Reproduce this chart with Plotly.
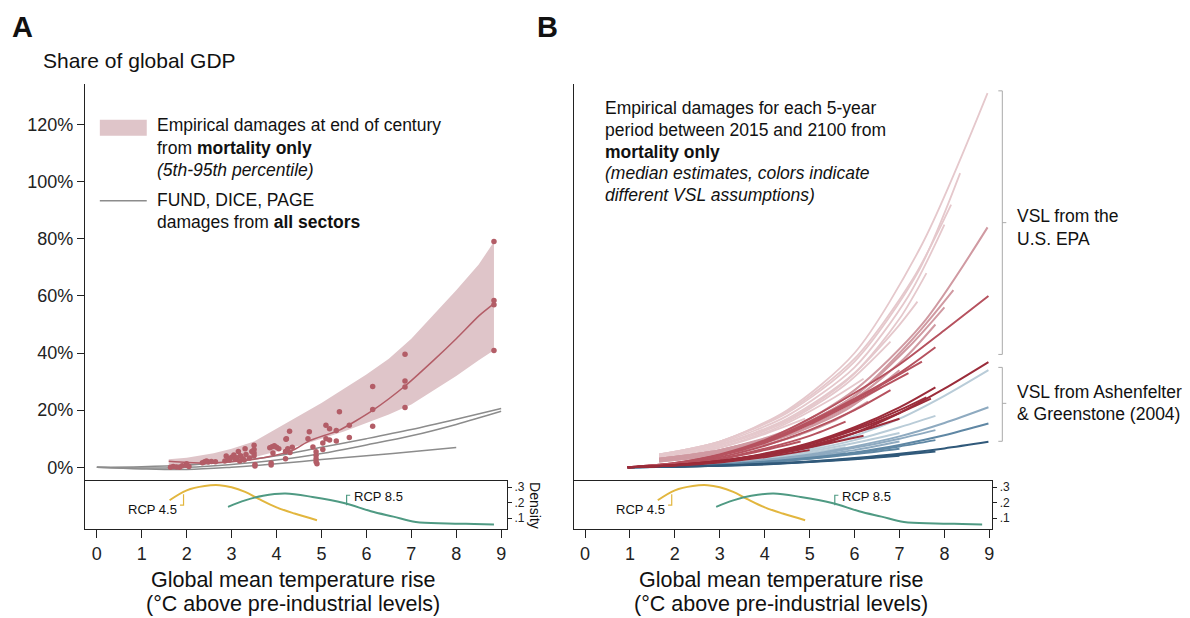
import plotly.graph_objects as go

W, H = 1190, 618
FONT = "Liberation Sans, Arial, Helvetica, sans-serif"

# ---------------- Panel A data ----------------
band_T = [1.6, 2.0, 2.6, 3.0, 3.5, 4.0, 4.5, 5.0, 5.5, 6.0, 6.5, 7.0, 7.5, 8.0, 8.5, 8.84]
band_upper = [2.8, 3.3, 4.9, 6.5, 9.0, 13.5, 18.0, 22.5, 27.5, 32.5, 38.0, 45.0, 53.5, 62.0, 71.0, 79.0]
band_lower = [0.3, 0.3, 1.4, 2.2, 3.5, 5.5, 7.5, 10.0, 12.5, 15.5, 18.5, 22.0, 27.0, 32.0, 37.5, 41.0]

median_T = [1.6, 2.0, 2.58, 3.0, 3.47, 4.0, 4.36, 4.75, 5.4, 6.14, 6.88, 7.5, 8.0, 8.51, 8.84]
median_V = [2.1, 1.7, 1.5, 1.9, 2.7, 4.3, 5.9, 9.4, 13.0, 19.9, 28.7, 37.5, 45.0, 53.1, 57.3]

dots_T = [1.64, 1.70, 1.77, 1.84, 1.90, 1.99, 2.05, 2.00,
          2.35, 2.40, 2.44, 2.48, 2.64, 2.55,
          2.85, 2.88, 2.92, 2.95, 3.00, 3.05, 3.08, 3.12, 3.15, 3.18, 3.20, 3.25, 3.30, 3.32, 3.28,
          3.50, 3.50, 3.50, 3.50, 3.52, 3.52, 3.45, 3.40,
          3.85, 3.90, 3.95, 4.00, 4.05, 3.88, 3.88, 3.92,
          4.21, 4.29, 4.22, 4.20, 4.25, 4.30, 4.20, 4.35,
          4.73, 4.70, 4.81, 4.88, 4.88, 4.88, 4.88, 4.90,
          5.03, 5.03, 5.10, 5.10, 5.18, 5.18, 5.33, 5.33, 5.40, 5.62, 5.62,
          6.14, 6.14, 6.14,
          6.86, 6.86, 6.86, 6.86,
          8.84, 8.84, 8.84, 8.84]
dots_V = [0.0, 0.3, 0.1, 0.0, 0.5, 0.7, 0.3, 1.2,
          1.6, 1.9, 2.2, 1.8, 1.9, 2.0,
          2.2, 3.9, 3.0, 2.5, 3.5, 4.3, 2.8, 3.3, 5.5, 2.2, 4.0, 3.0, 6.5, 4.5, 2.5,
          7.7, 6.2, 5.0, 4.0, 1.0, 0.4, 5.5, 3.2,
          6.8, 7.2, 7.5, 7.0, 6.5, 1.5, 0.8, 5.0,
          9.8, 12.6, 10.0, 5.5, 6.5, 5.2, 3.0, 7.0,
          12.4, 10.0, 7.1, 5.4, 4.2, 3.0, 1.9, 1.2,
          8.5, 6.2, 14.7, 10.0, 13.5, 9.5, 12.9, 9.2, 19.4, 14.7, 10.4,
          28.3, 20.2, 14.4,
          39.6, 30.2, 28.1, 20.9,
          79.1, 58.4, 56.9, 40.9]

iam_T = [[0, 1, 2, 3, 4, 5, 6, 7, 8, 9],
         [0, 1, 2, 3, 4, 5, 6, 7, 8, 9],
         [0, 1, 2, 3, 4, 5, 6, 7, 8]]
iam_V = [[0, 0.2, 0.8, 2.0, 4.0, 7.0, 10.0, 13.2, 16.8, 20.6],
         [0, -0.3, 0.0, 1.0, 2.5, 4.8, 7.8, 11.0, 15.0, 19.6],
         [0, -0.6, -0.8, 0.0, 1.2, 2.7, 4.0, 5.4, 6.9]]

# density (both panels)
rcp45_T = [1.62, 2.0, 2.4, 2.73, 3.0, 3.3, 3.6, 4.0, 4.4, 4.9]
rcp45_D = [0.216, 0.28, 0.308, 0.313, 0.30, 0.27, 0.225, 0.17, 0.13, 0.087]
rcp85_T = [2.92, 3.3, 3.7, 4.2, 4.8, 5.5, 6.1, 6.6, 7.1, 7.8, 8.4, 8.84]
rcp85_D = [0.173, 0.215, 0.245, 0.259, 0.237, 0.198, 0.145, 0.11, 0.075, 0.066, 0.062, 0.059]

# ---------------- Panel B data (one list per VSL assumption) ----------------
E1_T = [[1.65, 3.0, 4.5, 6.0, 7.5, 8.96], [1.65, 3.0, 4.5, 6.0, 7.4, 8.35], [1.65, 3.0, 4.5, 6.0, 7.3, 8.15],
        [1.65, 3.0, 4.5, 6.0, 7.2, 8.0], [1.65, 3.0, 4.5, 6.0, 7.0, 7.6], [1.65, 3.0, 4.5, 5.8, 6.9, 7.4],
        [1.65, 3.0, 4.5, 5.8, 6.8], [1.65, 3.0, 4.3, 5.5, 6.2], [1.65, 2.8, 3.8, 4.9]]
E1_V = [[4.5, 9, 20, 40, 78, 131], [4.5, 9, 19, 37, 68, 103], [4.5, 9, 19.5, 38, 66, 92],
        [4, 8.5, 18, 35, 60, 85], [4, 8, 17, 33, 52, 68], [4, 8, 16.5, 30, 48, 58],
        [3.5, 7.5, 16, 29, 44], [3, 7, 14, 24, 31], [3, 6, 10.5, 17]]
E2_T = [[1.65, 3.0, 4.5, 6.0, 7.5, 8.96], [1.65, 3.0, 4.5, 6.0, 7.3, 8.2], [1.65, 3.0, 4.5, 6.0, 7.2, 8.0],
        [1.65, 3.0, 4.5, 6.0, 7.1, 7.8], [1.65, 3.0, 4.5, 5.8, 7.0], [1.65, 3.0, 4.5, 5.6, 6.6],
        [1.65, 3.0, 4.3, 5.5, 6.3], [1.65, 2.8, 3.8, 4.8]]
E2_V = [[3, 6, 13, 27, 50, 84], [3, 6, 12.5, 25, 45, 62], [3, 6, 12.5, 25, 42, 56],
        [2.5, 5.5, 12, 24, 38, 50], [2.5, 5, 11, 20, 34], [2.5, 5.5, 11, 19, 28],
        [2, 4.5, 9, 16, 23], [2, 4, 7, 11.5]]
E3_T = [[0.95, 2, 3, 4, 5, 6, 7, 8, 8.98], [0.95, 2, 3, 4, 5, 6, 7, 7.8], [0.95, 2, 3, 4, 5, 6, 7, 7.5],
        [0.95, 2, 3, 4, 5, 6, 7.2], [0.95, 2, 3, 4, 5, 6.0, 6.8], [0.95, 2, 3, 4, 5, 5.8], [0.95, 2, 3, 4, 4.8]]
E3_V = [[0, 1.5, 4.5, 9.5, 17, 26, 36, 48, 60], [0, 1.5, 4.3, 9, 16, 24, 33, 42], [0, 1.4, 4.2, 9, 15.5, 23.5, 32.5, 37],
        [0, 1.3, 4, 8.5, 15, 23, 33], [0, 1.2, 3.5, 7.5, 13, 20, 27], [0, 1, 3, 6.5, 11, 16], [0, 1, 2.8, 6, 9]]
E4_T = [[0.95, 2, 3, 4, 5, 6, 7, 8, 8.98], [0.95, 2, 3, 4, 5, 6, 7, 7.8], [0.95, 2, 3, 4, 5, 6, 7, 7.7],
        [0.95, 2, 3, 4, 5, 6, 7, 7.6], [0.95, 2, 3, 4, 5, 6, 7.0], [0.95, 2, 3, 4, 5, 6.2], [0.95, 2, 3, 4, 5.0]]
E4_V = [[0, 0.7, 2, 4, 7, 12, 19, 27.5, 36.8], [0, 0.8, 2.3, 4.8, 8.5, 14, 21, 28], [0, 0.8, 2.2, 4.5, 8, 13, 19, 24],
        [0, 0.8, 2.2, 4.6, 8.2, 13.5, 20, 24.5], [0, 0.7, 2, 4.2, 7.5, 12, 17], [0, 0.7, 1.9, 4, 7, 11],
        [0, 0.6, 1.7, 3.5, 6]]
A1_T = [[0.95, 2, 3, 4, 5, 6, 7, 8, 8.98], [0.95, 2, 3, 4, 5, 6, 7, 7.8], [0.95, 2, 3, 4, 5, 6, 7.0], [0.95, 2, 3, 4, 5, 5.8]]
A1_V = [[0, 0.5, 1.5, 3.5, 6.5, 11, 17, 25, 34], [0, 0.5, 1.4, 3.2, 6, 9.5, 14, 18], [0, 0.4, 1.3, 3, 5.5, 8.5, 12], [0, 0.4, 1.2, 2.7, 5, 7]]
A2_T = [[0.95, 2, 3, 4, 5, 6, 7, 8, 8.98], [0.95, 2, 3, 4, 5, 6, 7, 7.8], [0.95, 2, 3, 4, 5, 6, 7.0], [0.95, 2, 3, 4, 5, 5.8]]
A2_V = [[0, 0.4, 1.2, 2.6, 4.5, 7.3, 10.8, 15.5, 21], [0, 0.4, 1.1, 2.4, 4.2, 6.8, 10, 13], [0, 0.35, 1, 2.2, 4, 6, 9], [0, 0.3, 0.9, 2, 3.6, 5]]
A3_T = [[0.95, 2, 3, 4, 5, 6, 7, 8, 8.98], [0.95, 2, 3, 4, 5, 6, 7, 7.8], [0.95, 2, 3, 4, 5, 6, 7.0]]
A3_V = [[0, 0.3, 0.9, 1.9, 3.3, 5.2, 7.8, 11.2, 15.3], [0, 0.3, 0.85, 1.8, 3.1, 5, 7.3, 9.5], [0, 0.25, 0.8, 1.7, 3, 4.6, 6.5]]
A4_T = [[0.95, 2, 3, 4, 5, 6, 7, 8, 8.98], [0.95, 2, 3, 4, 5, 6, 7, 7.8], [0.95, 2, 3, 4, 5, 6, 7.0]]
A4_V = [[0, 0.2, 0.6, 1.2, 2, 3.2, 4.7, 6.6, 8.9], [0, 0.2, 0.55, 1.1, 1.9, 3, 4.3, 5.5], [0, 0.2, 0.5, 1, 1.8, 2.8, 4]]

y_ticks = [0, 20, 40, 60, 80, 100, 120]
y_ticktext = ["0%", "20%", "40%", "60%", "80%", "100%", "120%"]
x_ticks = [0, 1, 2, 3, 4, 5, 6, 7, 8, 9]
d_ticks = [0.1, 0.2, 0.3]
d_ticktext = [".1", ".2", ".3"]

# ---------------- styling ----------------
BAND = "#dfc5c9"
DOT = "#b35d67"
GRAY = "#8c8c8c"
YEL = "#e2b63e"
GRN = "#4f9a83"
AX = "#222222"
GROUPS = [(A1_T, A1_V, "#b9ccd8", 2), (A2_T, A2_V, "#8eaac0", 2), (A3_T, A3_V, "#5f87a4", 2), (A4_T, A4_V, "#30597a", 2),
          (E1_T, E1_V, "#e5c8cc", 1.8), (E2_T, E2_V, "#d09aa2", 2), (E3_T, E3_V, "#b6525f", 2), (E4_T, E4_V, "#9b2c3a", 2)]

FS = 17.5  # body text size


def px(x):
    return x / W


def py(y):
    return 1 - y / H


fig = go.Figure()

# Panel A
fig.add_trace(go.Scatter(x=band_T, y=band_lower, mode="lines", line=dict(width=0, color=BAND),
                         xaxis="x", yaxis="y", hoverinfo="skip"))
fig.add_trace(go.Scatter(x=band_T, y=band_upper, mode="lines", line=dict(width=0, color=BAND),
                         fill="tonexty", fillcolor=BAND, xaxis="x", yaxis="y", hoverinfo="skip"))
for tt, vv in zip(iam_T, iam_V):
    fig.add_trace(go.Scatter(x=tt, y=vv, mode="lines", line=dict(color=GRAY, width=1.5, shape="spline"),
                             xaxis="x", yaxis="y"))
fig.add_trace(go.Scatter(x=median_T, y=median_V, mode="lines", line=dict(color=DOT, width=1.5, shape="spline", smoothing=0.6),
                         xaxis="x", yaxis="y"))
fig.add_trace(go.Scatter(x=dots_T, y=dots_V, mode="markers", marker=dict(color=DOT, size=5.5),
                         xaxis="x", yaxis="y"))

# Density panels
for xa, ya in (("x2", "y2"), ("x4", "y4")):
    fig.add_trace(go.Scatter(x=rcp45_T, y=rcp45_D, mode="lines", line=dict(color=YEL, width=2, shape="spline"),
                             xaxis=xa, yaxis=ya))
    fig.add_trace(go.Scatter(x=rcp85_T, y=rcp85_D, mode="lines", line=dict(color=GRN, width=2, shape="spline"),
                             xaxis=xa, yaxis=ya))

# Panel B lines
for gT, gV, col, wd in GROUPS:
    for tt, vv in zip(gT, gV):
        fig.add_trace(go.Scatter(x=tt, y=vv, mode="lines", line=dict(color=col, width=wd, shape="spline", smoothing=0.8),
                                 xaxis="x3", yaxis="y3"))

A_dom = [px(85), px(508)]
B_dom = [px(575), px(994)]
main_dom = [py(481), py(83)]
dens_dom = [py(529), py(481)]
A_rng = [(85 - 97) / 45, (508 - 97) / 45]
B_rng = [(575 - 586) / 45, (994 - 586) / 45]
y_rng = [-(481 - 467) / 2.86, (467 - 83) / 2.86]
d_rng = [0.3 - (529 - 487) * 0.2 / 31, 0.3 + (487 - 481) * 0.2 / 31]

hidden_x = dict(visible=False, showgrid=False, zeroline=False)
dens_x = dict(showline=True, mirror=True, linecolor=AX, linewidth=1, ticks="outside", ticklen=8, tickwidth=1,
              tickcolor=AX, tickvals=x_ticks, tickfont=dict(size=18, color="#222", family=FONT),
              showgrid=False, zeroline=False)
dens_y = dict(side="right", showline=True, mirror=True, linecolor=AX, linewidth=1, ticks="outside", ticklen=4,
              tickcolor=AX, tickvals=d_ticks, ticktext=d_ticktext, tickfont=dict(size=12, color="#222", family=FONT),
              range=d_rng, domain=dens_dom, showgrid=False, zeroline=False)

fig.update_layout(
    width=W, height=H, margin=dict(l=0, r=0, t=0, b=0),
    paper_bgcolor="white", plot_bgcolor="rgba(0,0,0,0)", showlegend=False,
    font=dict(family=FONT, color="#222"),
    xaxis=dict(domain=A_dom, range=A_rng, anchor="y", **hidden_x),
    yaxis=dict(domain=main_dom, range=y_rng, anchor="x", showline=True, linecolor=AX, linewidth=1, ticks="outside",
               ticklen=7, tickcolor=AX, tickvals=y_ticks, ticktext=y_ticktext,
               tickfont=dict(size=18, color="#222", family=FONT), showgrid=False, zeroline=False),
    xaxis2=dict(domain=A_dom, range=A_rng, anchor="y2", **dens_x),
    yaxis2=dict(anchor="x2", **dens_y),
    xaxis3=dict(domain=B_dom, range=B_rng, anchor="y3", **hidden_x),
    yaxis3=dict(domain=main_dom, range=y_rng, anchor="x3", showline=True, linecolor=AX, linewidth=1, ticks="",
                showticklabels=False, showgrid=False, zeroline=False),
    xaxis4=dict(domain=B_dom, range=B_rng, anchor="y4", **dens_x),
    yaxis4=dict(anchor="x4", **dens_y),
)

ann = []


def txt(x, y, s, size=FS, anchor="left", **kw):
    ann.append(dict(x=px(x), y=py(y), xref="paper", yref="paper", text=s, showarrow=False, xanchor=anchor,
                    yanchor="middle", font=dict(size=size, family=FONT, color=kw.pop("color", "#111")), **kw))


txt(10, 26, "<b>A</b>", size=29)
txt(536, 26, "<b>B</b>", size=29)
txt(41, 60, "Share of global GDP", size=21)

txt(155, 124, "Empirical damages at end of century")
txt(155, 147, "from <b>mortality only</b>")
txt(155, 169, "<i>(5th-95th percentile)</i>")
txt(155, 199, "FUND, DICE, PAGE")
txt(155, 221, "damages from <b>all sectors</b>")

txt(604, 107, "Empirical damages for each 5-year")
txt(604, 129, "period between 2015 and 2100 from")
txt(604, 151, "<b>mortality only</b>")
txt(604, 172, "<i>(median estimates, colors indicate</i>")
txt(604, 194, "<i>different VSL assumptions)</i>")

txt(1017, 215, "VSL from the")
txt(1017, 238, "U.S. EPA")
txt(1017, 392, "VSL from Ashenfelter")
txt(1017, 414, "& Greenstone (2004)")

for cx in (293, 782):
    txt(cx, 580, "Global mean temperature rise", size=21.5, anchor="center")
    txt(cx, 604, "(°C above pre-industrial levels)", size=21.5, anchor="center")

txt(536, 505, "Density", size=14, anchor="center", textangle=90)

# RCP labels (both panels) in density-axis data coordinates
for xa, ya in (("x2", "y2"), ("x4", "y4")):
    ann.append(dict(x=1.82, y=0.158, xref=xa, yref=ya, text="RCP 4.5", showarrow=False, xanchor="right",
                    yanchor="middle", font=dict(size=13, family=FONT, color="#111")))
    ann.append(dict(x=5.67, y=0.242, xref=xa, yref=ya, text="RCP 8.5", showarrow=False, xanchor="left",
                    yanchor="middle", font=dict(size=13, family=FONT, color="#111")))

shapes = []
for xa, ya in (("x2", "y2"), ("x4", "y4")):
    shapes.append(dict(type="path", xref=xa, yref=ya, path="M 1.93 0.255 L 1.93 0.184 L 1.85 0.184",
                       line=dict(color=YEL, width=1.2)))
    shapes.append(dict(type="path", xref=xa, yref=ya, path="M 5.56 0.184 L 5.56 0.248 L 5.64 0.248",
                       line=dict(color=GRN, width=1.2)))

# Panel A legend keys
shapes.append(dict(type="rect", xref="paper", yref="paper", x0=px(100), x1=px(147), y0=py(135), y1=py(119),
                   fillcolor=BAND, line=dict(width=0)))
shapes.append(dict(type="line", xref="paper", yref="paper", x0=px(100), x1=px(147), y0=py(200), y1=py(200),
                   line=dict(color=GRAY, width=1.5)))

# Panel B brackets
BR = "#aaaaaa"
for top, bot, mid in ((90, 354, 222), (367, 441, 403)):
    shapes.append(dict(type="path", xref="paper", yref="paper",
                       path=f"M {px(1000)} {py(top)} L {px(1004)} {py(top)} L {px(1004)} {py(bot)} L {px(1000)} {py(bot)}",
                       line=dict(color=BR, width=1)))
    shapes.append(dict(type="line", xref="paper", yref="paper", x0=px(1004), x1=px(1008), y0=py(mid), y1=py(mid),
                       line=dict(color=BR, width=1)))

fig.update_layout(annotations=ann, shapes=shapes)
fig.write_html("out.html")
